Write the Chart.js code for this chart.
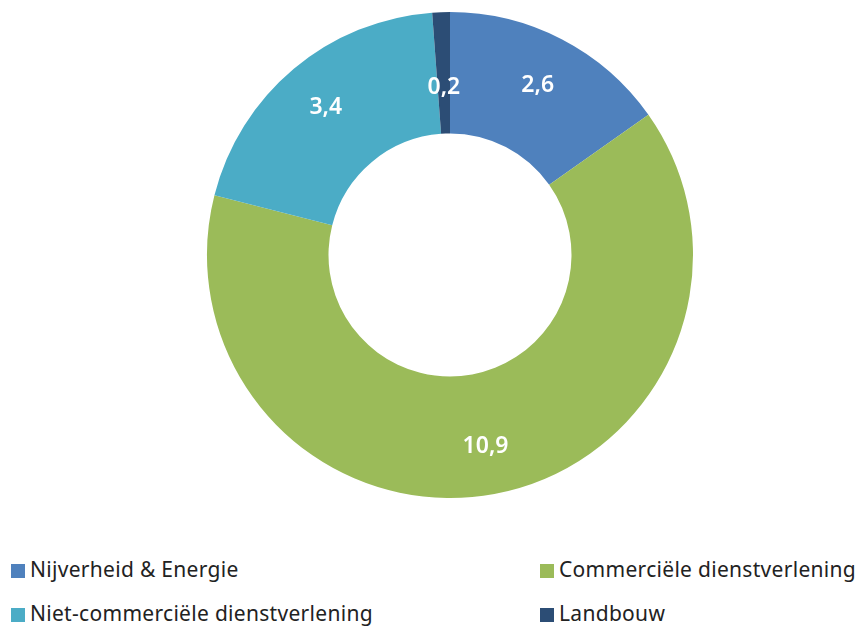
<!DOCTYPE html>
<html>
<head>
<meta charset="utf-8">
<script src="https://cdn.jsdelivr.net/npm/chart.js@4"></script>
<style>
  body { margin: 0; background: #fff; }
  #wrap { position: relative; width: 862px; height: 627px; overflow: hidden; }
  #chartBox { position: absolute; left: 0; top: 0; width: 862px; height: 510px; }
  .leg { position: absolute; font-family: 'Noto Sans', sans-serif; font-size: 21px; letter-spacing: 0.3px; color: #222; white-space: nowrap; line-height: 24px; }
  .leg span { display: inline-block; width: 14px; height: 14px; margin-right: 5px; vertical-align: -1px; }
</style>
</head>
<body>
<div id="wrap">
  <div id="chartBox"><canvas id="myChart"></canvas></div>
  <div id="legend"></div>
</div>
<script>
const categories = ['Nijverheid & Energie', 'Commerciële dienstverlening', 'Niet-commerciële dienstverlening', 'Landbouw'];
const values = [2.6, 10.9, 3.4, 0.2];
const colors = ['#4f81bd', '#9bbb59', '#4bacc6', '#2c4d75'];

// legend laid out in two columns like the original
const legendPos = [[11, 557], [540, 557], [11, 601], [540, 601]];
// where the label sits across the ring (0 = inner edge, 1 = outer edge)
const labelDepth = [0.57, 0.6, 0.59, 0.38];

const legendEl = document.getElementById('legend');
categories.forEach((c, i) => {
   const d = document.createElement('div');
   d.className = 'leg';
   d.style.left = legendPos[i][0] + 'px';
   d.style.top = legendPos[i][1] + 'px';
   d.innerHTML = '<span style="background:' + colors[i] + '"></span>';
   d.appendChild(document.createTextNode(c));
   legendEl.appendChild(d);
});

// white value labels on each slice
const sliceLabels = {
   id: 'sliceLabels',
   afterDatasetsDraw(chart) {
      const ctx = chart.ctx;
      const meta = chart.getDatasetMeta(0);
      ctx.save();
      ctx.fillStyle = '#fff';
      ctx.font = '600 23px "Noto Sans", sans-serif';
      ctx.textAlign = 'center';
      ctx.textBaseline = 'middle';
      meta.data.forEach((arc, i) => {
         const a = (arc.startAngle + arc.endAngle) / 2;
         const r = arc.innerRadius + (arc.outerRadius - arc.innerRadius) * labelDepth[i];
         ctx.fillText(values[i].toFixed(1).replace('.', ','), arc.x + Math.cos(a) * r, arc.y + Math.sin(a) * r);
      });
      ctx.restore();
   }
};

const ctx = document.getElementById('myChart').getContext('2d');
const myChart = new Chart(ctx, {
   type: 'doughnut',
   data: {
      labels: categories,
      datasets: [{
         data: values,
         backgroundColor: colors,
         borderWidth: 0
      }]
   },
   options: {
      responsive: true,
      maintainAspectRatio: false,
      animation: false,
      cutout: '50%',
      layout: { padding: { left: 38, top: 12, bottom: 12 } },
      plugins: {
         legend: { display: false },
         tooltip: { enabled: false }
      }
   },
   plugins: [sliceLabels]
});
</script>
</body>
</html>
